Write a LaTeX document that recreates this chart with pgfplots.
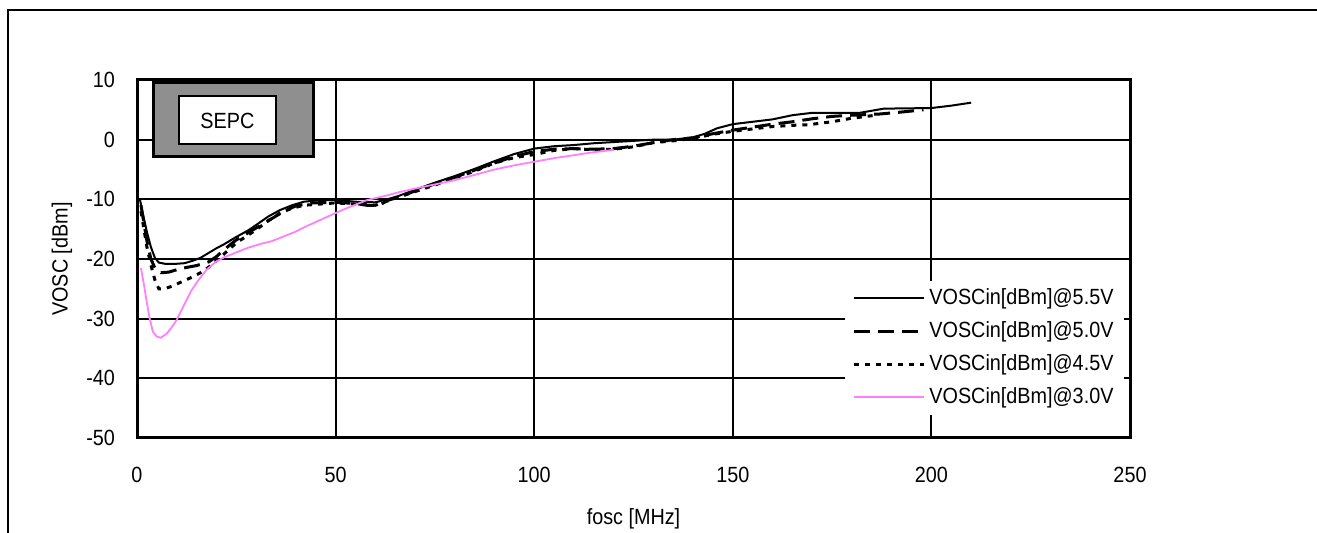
\documentclass[border=0pt]{standalone}
\usepackage{pgfplots}
\pgfplotsset{compat=1.18}
\usepackage{fontspec}
\setmainfont[FakeStretch=0.9]{Liberation Sans}
\definecolor{pinkline}{HTML}{FF80FF}
\definecolor{boxgray}{HTML}{8F8F8F}
\begin{document}
\begin{tikzpicture}
\path[use as bounding box] (0,0) rectangle (658.5pt,266.5pt);
\draw[line width=1pt] (4pt,0) -- (4pt,261.5pt) -- (658.5pt,261.5pt);
\begin{axis}[
    at={(68.5pt,47.5pt)}, anchor=south west,
    scale only axis,
    width=496.5pt, height=179pt,
    xmin=0, xmax=250, ymin=-50, ymax=10,
    xtick={0,50,...,250}, ytick={-50,-40,...,10},
    tick style={draw=none},
    grid=major,
    major grid style={black, line width=1pt},
    axis line style={line width=1.5pt},
    font=\fontsize{11}{13}\selectfont,
    /pgf/number format/assume math mode=true,
    xticklabel style={yshift=-11pt},
    yticklabel style={xshift=-7.5pt},
    xlabel={fosc [MHz]},
    ylabel={VOSC [dBm]},
    xlabel style={at={(axis description cs:0.5,-0.225)}, anchor=center},
    ylabel style={at={(axis description cs:-0.0755,0.5)}, anchor=center, rotate=0},
    legend style={at={(0.713,0.44)}, anchor=north west, draw=none, fill=white,
        font=\fontsize{11}{13}\selectfont, inner xsep=3.5pt, row sep=3pt},
    legend cell align=left,
    legend image code/.code={\draw[#1] (0pt,0pt) -- (35pt,0pt);},
    ]
\addplot[black, line width=1pt] coordinates {
(0.7,-9.9) (1.5,-12.5) (2.5,-15.5) (3.5,-18) (4.5,-19.8) (5.5,-20.6) (7,-20.8)
(10,-20.8) (12,-20.7) (14,-20.3) (16,-19.8) (18,-19.0) (20,-18.2) (22,-17.5)
(25,-16.3) (28,-15.2) (30,-14.3) (33,-12.9) (36,-11.8) (39,-11) (42,-10.4)
(45,-10.2) (50,-10.1) (55,-10.4) (60,-10.5) (63,-10) (66,-9.4) (70,-8.4)
(75,-7.2) (80,-6.1) (85,-4.9) (90,-3.6) (95,-2.4) (100,-1.5) (105,-1.1)
(110,-0.9) (115,-0.6) (120,-0.4) (125,-0.2) (130,0) (135,0) (140,0.4)
(143,1) (146,1.9) (150,2.6) (155,3) (160,3.4) (165,4.1) (170,4.5) (182,4.5)
(188,5.2) (200,5.3) (205,5.7) (210,6.2)
};
\addlegendentry{VOSCin[dBm]@5.5V}
\addplot[black, line width=1.5pt, dash pattern=on 8pt off 4pt] coordinates {
(1,-11) (1.5,-13) (2.5,-17) (3.5,-20) (4.5,-21.5) (6,-22.3) (8,-22.2)
(11,-21.6) (15,-21.1) (18,-20.5) (20,-19.6) (22,-18.4) (25,-16.8) (28,-15.6)
(31,-14.4) (34,-13.2) (37,-12.0) (40,-11.1) (44,-10.6) (50,-10.5) (55,-10.7)
(58,-11) (61,-11) (63,-10.2) (66,-9.6) (70,-8.6) (75,-7.4) (80,-6.3)
(85,-5.1) (90,-3.9) (95,-2.8) (100,-2) (105,-1.6) (110,-1.5) (115,-1.6)
(120,-1.5) (125,-1.1) (130,-0.5) (135,0) (140,0.3) (145,1.0) (150,1.6)
(155,2.1) (160,2.6) (165,3.0) (170,3.5) (175,3.9) (180,4.1) (187,4.3)
(192,4.6) (198,5.0)
};
\addlegendentry{VOSCin[dBm]@5.0V}
\addplot[black, line width=1.5pt, dash pattern=on 2.5pt off 3pt] coordinates {
(1,-12) (1.5,-14) (2.5,-18) (3.5,-21) (4.5,-23.5) (5.5,-25) (7,-25) (9,-24.5)
(11,-23.9) (14,-23) (16,-22.3) (18,-21.4) (20,-20.3) (22.5,-18.8) (25,-17.3)
(27.5,-16.2) (30,-15.1) (33,-13.6) (36,-12.3) (39,-11.5) (42,-11) (46,-10.8)
(50,-10.6) (55,-10.8) (60,-11) (63,-10.3) (66,-9.6) (70,-8.7) (75,-7.6)
(80,-6.4) (85,-5.3) (90,-3.9) (95,-3.0) (100,-2.5) (105,-1.8) (110,-1.5)
(115,-1.7) (120,-1.6) (125,-1.2) (130,-0.5) (135,-0.2) (140,0.2) (145,0.9)
(150,1.4) (155,1.8) (160,2.2) (165,2.4) (169,2.5) (175,3.0) (180,3.6) (186,4.1)
};
\addlegendentry{VOSCin[dBm]@4.5V}
\addplot[pinkline, line width=0.9pt] coordinates {
(1,-21.5) (1.8,-24.5) (2.5,-27.4) (3.2,-30) (4,-32.2) (5,-33) (6,-33.2)
(7.5,-32.5) (9,-31.2) (10,-30.2) (12,-27.5) (13.5,-25.5) (15.5,-23.5)
(17.5,-21.8) (20,-20.4) (22,-19.7) (25,-18.9) (28,-18.1) (31.5,-17.4)
(34,-17) (37,-16.2) (40,-15.4) (43,-14.4) (46,-13.5) (49,-12.6) (52,-11.7)
(55,-10.9) (58,-10.1) (62,-9.5) (66,-8.8) (70,-8.2) (75,-7.5) (80,-6.8)
(85,-5.9) (90,-5) (95,-4.3) (100,-3.7) (105,-3.1) (110,-2.6) (115,-2.1)
(120,-1.7)
};
\addlegendentry{VOSCin[dBm]@3.0V}
\draw[line width=1.5pt, fill=boxgray] (axis description cs:0.0171,0.785) rectangle (axis description cs:0.178,0.992);
\draw[line width=0.8pt, fill=white] (axis description cs:0.0423,0.821) rectangle (axis description cs:0.140,0.955);
\node[font=\fontsize{11}{13}\selectfont] at (axis description cs:0.091,0.885) {SEPC};
\end{axis}
\end{tikzpicture}
\end{document}
